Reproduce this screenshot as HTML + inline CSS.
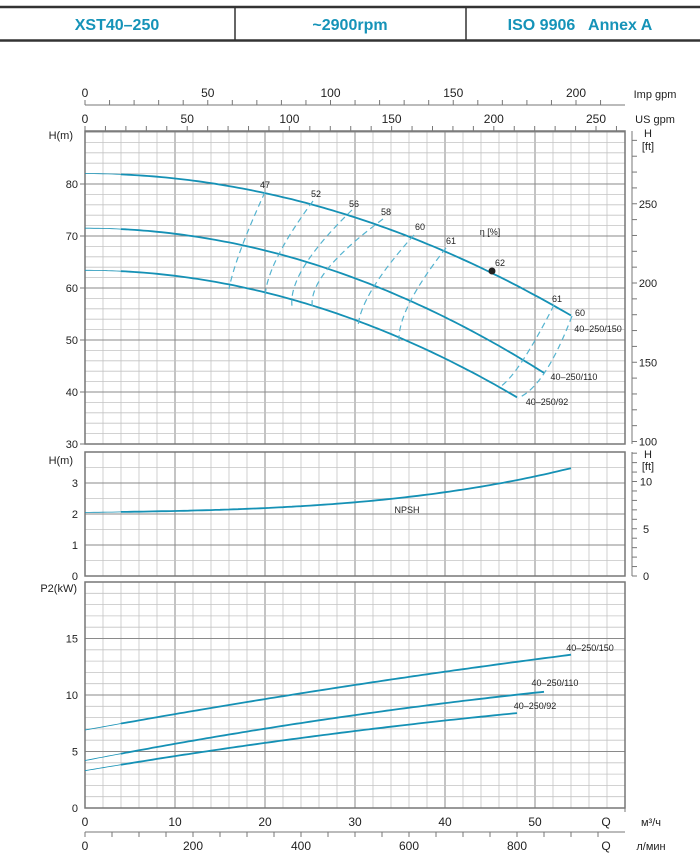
<!DOCTYPE html>
<html><head><meta charset="utf-8"><style>
html,body{margin:0;padding:0;background:#fff;}
svg{display:block;font-family:"Liberation Sans",sans-serif;}
</style></head><body>
<svg id="s" width="700" height="858" viewBox="0 0 700 858" xmlns="http://www.w3.org/2000/svg"></svg>
<script>
const s=document.getElementById('s');let o='';
const X=q=>85+9*q;
function L(x1,y1,x2,y2,c,w,extra){o+=`<line x1="${x1}" y1="${y1}" x2="${x2}" y2="${y2}" stroke="${c}" stroke-width="${w}" ${extra||''}/>`;}
function T(x,y,t,sz,anc,col,wt){o+=`<text x="${x}" y="${y}" font-size="${sz}" text-anchor="${anc||'middle'}" fill="${col||'#222'}" ${wt?'font-weight="bold"':''}>${t}</text>`;}
function P(pts,c,w,extra){o+=`<polyline fill="none" points="${pts.map(p=>p[0].toFixed(1)+','+p[1].toFixed(1)).join(' ')}" stroke="${c}" stroke-width="${w}" ${extra||''}/>`;}
// header
L(0,7,700,7,'#333',2.5);L(0,40.5,700,40.5,'#333',2.5);
L(235,7,235,40,'#333',1.5);L(466,7,466,40,'#333',1.5);
T(117,30,'XST40–250',16,'middle','#1593b8',1);T(350,30,'~2900rpm',16,'middle','#1593b8',1);
T(580,30,'ISO 9906&#160;&#160; Annex A',16,'middle','#1593b8',1);
// panels
const panels=[[131,444],[452,576],[582,808]];
for(const [t,b] of panels){
 for(let q=0;q<=60;q+=2){L(X(q),t,X(q),b,q%10==0?'#8a8a8a':'#c4c4c4',q%10==0?1:0.8);}
}
for(let h=30;h<=90;h+=2){const y=444-(h-30)*5.2;L(85,y,625,y,h%10==0?'#8a8a8a':'#c4c4c4',h%10==0?1:0.8);}
for(let h=0;h<=3.9;h+=0.5){const y=576-h*31;L(85,y,625,y,h%1==0?'#8a8a8a':'#c4c4c4',h%1==0?1:0.8);}
for(let h=0;h<=20;h+=1){const y=808-h*11.3;L(85,y,625,y,h%5==0?'#8a8a8a':'#c4c4c4',h%5==0?1:0.8);}
for(const [t,b] of panels){o+=`<rect x="85" y="${t}" width="540" height="${b-t}" fill="none" stroke="#777" stroke-width="1.5"/>`;}
// left labels
T(73,139,'H(m)',11,'end');
for(let h=30;h<=80;h+=10){const y=444-(h-30)*5.2;T(78,y+4,h,11,'end');L(80,y,85,y,'#777',1);}
T(73,464,'H(m)',11,'end');
for(let h=0;h<=3;h++){const y=576-h*31;T(78,y+4,h,11,'end');}
T(77,592,'P2(kW)',11,'end');
for(let h=0;h<=15;h+=5){const y=808-h*11.3;T(78,y+4,h,11,'end');}
// right ft axis
L(632,131,632,444,'#777',1);L(632,452,632,576,'#777',1);
for(let f=100;f<=290;f+=10){const y=444-(f*0.3048-30)*5.2;if(y<131)break;L(632,y,637,y,'#777',1);if(f%50==0)T(648,y+4,f,11);}
T(648,137,'H',11);T(648,150,'[ft]',11);
for(let f=0;f<=13;f++){const y=576-f*0.3048*31;if(y<452)break;L(632,y,637,y,'#777',1);if(f%5==0)T(646,y+4,f,11);}
T(648,458,'H',11);T(648,470,'[ft]',11);
// top axes
L(85,105,625,105,'#777',1);
for(let g=0;g<=215;g+=10){const x=X(g/3.666);L(x,105,x,100,'#777',1);if(g%50==0)T(x,97,g,12);}
T(655,98,'Imp gpm',11);
for(let g=0;g<=260;g+=10){const x=X(g/4.403);L(x,131,x,126,'#777',1);if(g%50==0)T(x,123,g,12);}
T(655,123,'US gpm',11);
// bottom axes
for(let q=0;q<=50;q+=10)T(X(q),826,q,12);
L(625,808,625,812,'#777',1);
T(606,826,'Q',12);T(651,826,'м³/ч',11);
L(85,832,625,832,'#777',1);
for(let l=0;l<=950;l+=50){const x=X(l*0.06);if(x>625)break;L(x,832,x,837,'#777',1);if(l%200==0)T(x,850,l,12);}
T(606,850,'Q',12);T(651,850,'л/мин',11);
// head curves
const C='#1591b5';
function curve(f,q0,q1,yf,w){const p=[];for(let q=q0;q<=q1+1e-9;q+=0.5)p.push([X(q),yf(f(q))]);P(p,C,w);}
const HY=h=>444-(h-30)*5.2;
const heads=[[82,0.00936,54.3],[71.5,0.0107,51.1],[63.4,0.0106,48]];
for(const [h0,a,qm] of heads){const f=q=>h0-a*q*q;curve(f,0,4,HY,0.8);curve(f,4,qm,HY,1.8);}
// efficiency dashed
const D='stroke-dasharray="6,4"';
const eff=[[[265,192],[241,249],[229,289]],[[313,201],[277,258],[265,299]],[[352,210],[305,265],[292,306]],[[383,219],[326,271],[313,310]],[[414,235],[373,288],[358,327]],[[446,248],[410,302],[399,341]],[[554,305],[523,360],[500,387]],[[572,316],[545,372],[518,398]]];
for(const e of eff){o+=`<path d="M${e[0]} Q${2*e[1][0]-(e[0][0]+e[2][0])/2},${2*e[1][1]-(e[0][1]+e[2][1])/2} ${e[2]}" fill="none" stroke="#55b4d0" stroke-width="1.2" ${D}/>`;}
const el=[[265,188,'47'],[316,197,'52'],[354,207,'56'],[386,215,'58'],[420,230,'60'],[451,244,'61'],[500,266,'62'],[557,302,'61'],[580,316,'60']];
for(const [x,y,t] of el)T(x,y,t,9);
T(490,235,'η [%]',9);
o+=`<circle cx="492" cy="271" r="3.5" fill="#222"/>`;
T(598,332,'40–250/150',9);T(574,380,'40–250/110',9);T(547,405,'40–250/92',9);
// NPSH
const NY=h=>576-h*31;const nf=q=>2.05+0.004*q+7.7e-6*q*q*q;
curve(nf,0,4,NY,0.8);curve(nf,4,54.3,NY,1.8);T(407,513,'NPSH',9);
// power
const PY=p=>808-p*11.3;
const pw=[[6.9,0.145,-0.0004,54.3],[4.2,0.155,-0.0007,51.1],[3.3,0.135,-0.0006,48]];
for(const [p0,b,c,qm] of pw){const f=q=>p0+b*q+c*q*q;curve(f,0,4,PY,0.8);curve(f,4,qm,PY,1.8);}
T(590,651,'40–250/150',9);T(555,686,'40–250/110',9);T(535,709,'40–250/92',9);
s.innerHTML=o;
</script>
</body></html>
